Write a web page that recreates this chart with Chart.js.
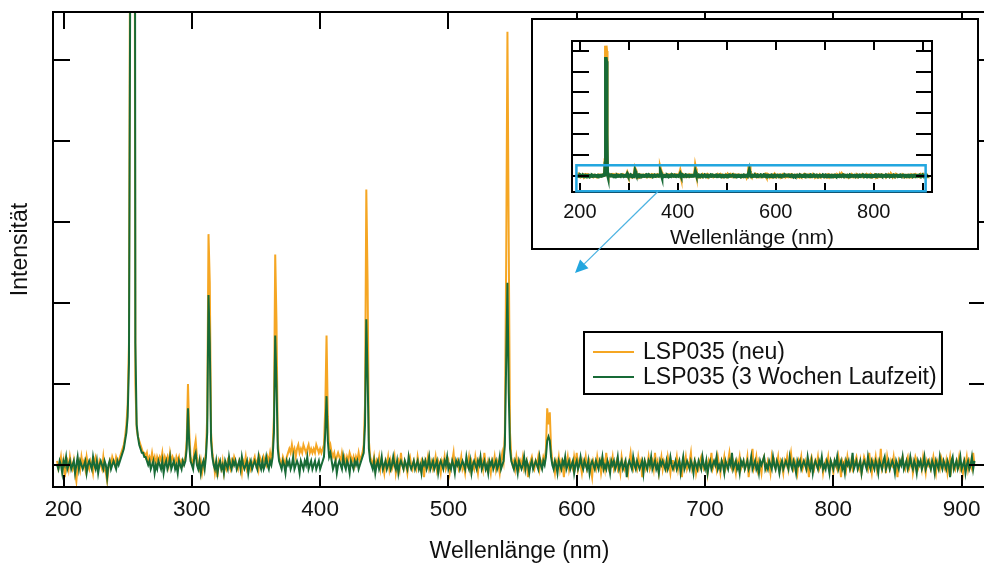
<!DOCTYPE html>
<html>
<head>
<meta charset="utf-8">
<title>LSP035 Spektrum</title>
<script src="https://cdn.jsdelivr.net/npm/chart.js@4/dist/chart.umd.min.js"></script>
<style>
  html, body { margin: 0; padding: 0; background: #fff; overflow: hidden; width: 984px; height: 565px; }
  #main { position: absolute; left: 0; top: 0; }
  #inset { position: absolute; left: 520px; top: 10px; }
</style>
</head>
<body>
<canvas id="main" width="990" height="565"></canvas>
<canvas id="inset" width="470" height="280"></canvas>
<script>
// Spectrometer grid: one sample per nanometre, 195 nm ... 910 nm
const wlStart = 195;
const wlStep = 1;

// Intensity, new lamp (rows of 20 nm, starting at 195 nm)
const neu = [
  1,-1,0,2,-1,1,-3,0,1,-1,2,0,-1,1,-2,-4,0,1,-1,2,
  0,1,-1,2,0,-1,1,0,-2,1,2,0,-1,1,0,-1,2,-1,-2,-4,
  -1,1,0,2,1,0,2,1,1,2,3,4,5,7,10,15,30,150,1250,1200,
  250,20,9,7,6,5,4,3,3,2,3,1,2,1,3,1,2,0,2,1,
  2,1,3,0,2,1,2,0,3,1,2,1,0,2,1,2,0,1,0,1,
  2,6,20,8,2,1,0,4,6,2,0,-1,1,-2,0,1,3,12,57,45,
  8,3,1,-2,0,-3,1,0,-1,1,-2,0,-1,1,0,-1,1,0,2,1,
  0,-1,1,0,-2,1,0,2,-1,0,1,-1,0,1,2,0,1,-1,2,1,
  0,2,1,0,2,1,3,1,4,12,52,35,6,2,1,0,2,1,0,2,
  3,4,3,5,3,4,2,4,5,3,4,3,5,4,3,4,5,3,4,3,
  4,3,5,4,3,4,3,4,5,14,32,12,4,5,3,2,3,1,2,3,
  2,1,3,1,2,0,2,1,3,2,1,2,0,2,1,3,1,2,3,5,
  15,68,45,6,2,1,0,2,-1,1,0,2,-1,1,0,-2,1,0,2,-1,
  1,-1,0,2,-2,0,1,-1,3,0,-1,1,0,-2,1,2,0,-1,1,0,
  -1,2,0,-1,1,0,-3,1,0,2,-1,0,1,-1,0,2,-1,1,0,-2,
  1,0,2,-1,0,1,-2,0,1,3,-1,0,1,-1,0,2,-1,0,-2,1,
  0,2,-1,1,0,-1,2,0,-2,1,0,1,-1,3,0,-1,1,0,-2,1,
  0,2,-1,1,0,-2,1,3,1,8,50,107,55,8,2,0,1,-1,2,0,
  -1,1,0,2,-1,0,1,-3,0,1,2,0,-1,1,0,2,-1,1,0,2,
  1,4,14,10,13,4,1,0,-2,1,0,2,-1,1,0,-3,1,0,2,-1,
  1,0,-1,2,0,3,-1,1,0,-2,1,0,2,-1,0,1,-1,-3,1,0,
  -1,2,0,1,-2,0,1,-1,3,0,-1,1,0,2,-1,0,1,-1,0,-2,
  2,0,-1,1,0,-2,1,3,0,-1,1,0,-1,2,0,1,-3,0,1,-1,
  0,2,-1,0,1,-1,3,0,1,-2,0,2,-1,1,0,-1,2,0,-2,1,
  1,-1,0,2,-1,1,0,-3,1,0,2,-1,0,1,3,-1,0,1,-2,0,
  -1,1,2,0,-1,0,1,-2,1,0,3,-1,0,1,-1,2,0,-2,1,0,
  2,-1,0,1,3,0,-1,1,0,-2,1,0,2,-1,0,1,-1,0,2,-3,
  0,1,4,-1,0,2,-1,1,0,-2,1,2,0,-1,1,0,-2,2,0,1,
  -1,0,2,-1,1,0,-2,1,0,2,-1,1,3,0,-1,1,0,-2,1,0,
  2,-1,0,1,-1,0,-3,1,2,0,-1,1,0,2,-1,0,1,-2,0,1,
  0,2,-1,1,0,-2,1,0,-1,2,0,-3,1,0,1,-1,2,0,-1,1,
  -1,0,1,2,0,-1,1,-2,0,2,1,0,-1,3,0,-2,1,0,2,-1,
  1,0,4,-1,0,1,-2,2,0,-1,1,0,2,-1,0,-3,1,0,1,2,
  0,-1,1,2,-1,0,1,-2,0,2,1,-1,0,1,-1,2,0,-2,1,0,
  1,-1,0,2,0,-2,1,0,-1,2,1,0,-1,1,-2,0,2,-1,1,0,
  -1,1,0,2,-1,0,-2,1,0,2,-1,1,0,-1,3,0
];

// Intensity after 3 weeks of operation (same grid)
const laufzeit = [
  0,-1,1,0,-2,1,0,2,-1,0,1,-1,0,1,-2,0,2,-1,1,0,
  -1,0,1,-2,0,1,0,-1,2,0,-1,1,-2,0,1,0,-1,1,0,-3,
  0,1,-1,0,1,0,-1,1,0,1,2,3,4,6,8,12,25,120,1140,1100,
  400,30,10,7,5,4,3,3,2,2,1,0,1,-1,0,1,-2,0,-1,1,
  0,-1,1,-2,0,1,-1,0,2,-1,0,1,-1,0,-2,1,0,-1,1,0,
  1,4,14,5,1,0,-1,2,3,0,-1,1,-2,0,1,-1,2,8,42,30,
  6,2,0,-1,1,-2,0,1,-1,0,-2,1,0,-1,2,0,-1,1,0,1,
  -1,0,1,-1,2,0,-1,0,1,-2,0,1,-1,0,1,0,-1,2,0,-1,
  1,-1,0,2,0,-1,1,0,2,8,32,20,4,1,0,-1,1,0,-2,1,
  0,1,-1,0,2,-1,0,1,0,-2,1,0,-1,1,0,2,-1,0,1,-1,
  0,1,-1,0,1,-1,0,1,2,8,17,6,2,3,1,-1,0,1,-2,0,
  1,0,-1,2,0,-1,1,0,-2,1,0,-1,1,0,1,-1,0,1,2,3,
  10,36,22,4,1,0,-1,1,-2,0,1,-1,0,2,-1,0,1,-1,0,1,
  -1,0,2,0,-1,1,-2,0,1,0,-1,1,0,-1,2,0,-1,0,1,-1,
  0,1,-1,0,-2,1,0,1,-1,0,2,-1,0,1,-1,0,1,-2,0,1,
  0,-1,1,0,2,-1,0,-1,1,0,-2,1,0,1,-1,0,1,0,-1,2,
  0,-1,1,-2,0,1,0,-1,1,0,2,-1,0,1,-1,0,-2,1,0,1,
  -1,0,1,-1,0,2,-1,0,1,5,25,45,18,4,1,0,-1,1,0,-2,
  1,0,-1,0,2,-1,1,0,-2,0,1,-1,0,1,0,-1,2,0,-1,1,
  0,2,6,7,6,2,0,-1,1,0,-2,1,0,-1,1,0,2,-1,0,1,
  -1,0,1,-2,0,1,-1,0,2,0,-1,1,0,-1,1,-2,0,1,0,-1,
  1,0,-1,1,0,2,-1,0,-1,1,0,-2,1,0,1,-1,0,2,-1,0,
  1,-1,0,1,-3,0,1,0,-1,2,0,-1,1,0,-1,0,1,-2,1,0,
  -1,1,0,2,-1,0,1,-1,0,-2,1,0,1,0,-1,1,-1,0,2,0,
  -1,0,1,-1,0,1,-2,0,2,-1,0,1,0,-1,1,0,-2,1,0,-1,
  1,0,-1,2,0,-1,1,-2,0,1,-1,0,1,0,2,-1,0,-1,1,0,
  -2,1,0,-1,1,0,3,-1,0,1,-1,0,-2,1,0,1,-1,0,1,-1,
  0,2,-1,0,1,-1,0,-2,1,0,1,2,-1,0,-1,1,0,-1,2,0,
  -1,1,0,-2,0,1,-1,0,1,0,-1,2,0,-1,1,0,-2,1,0,1,
  -1,0,1,0,-1,2,0,-1,1,-2,0,1,0,-1,1,0,2,-1,0,-1,
  1,0,-2,1,0,-1,1,0,2,-1,0,1,-1,0,-2,1,0,1,-1,0,
  3,-1,0,1,-1,0,1,-2,0,1,0,-1,2,0,-1,1,0,-1,1,0,
  -2,1,0,-1,1,2,-1,0,1,-1,0,1,0,-2,1,0,-1,1,0,2,
  -1,0,1,-1,0,2,0,-1,1,0,-2,1,0,1,-1,0,2,-1,0,1,
  0,-1,1,0,-2,1,0,-1,2,0,-1,1,0,-1,1,0,-3,1,2,-1,
  0,1,-1,0,2,-1,0,1,-2,0,1,-1,0,2,-1,1
];

const seriesLabels = ['LSP035 (neu)', 'LSP035 (3 Wochen Laufzeit)'];
const seriesColors = ['#F5A623', '#176A36'];

// Axis ticks
const mainXTicks = [200, 300, 400, 500, 600, 700, 800, 900];
const mainYTicks = [0, 20, 40, 60, 80, 100];
const insetXTicks = [200, 300, 400, 500, 600, 700, 800, 900];
const insetXLabels = [200, 400, 600, 800];
const insetYTicks = [0, 200, 400, 600, 800, 1000, 1200];

// Zoomed region marked in the overview (data units of the overview)
const zoomRegion = { x: [193, 906], y: [-150, 100] };

const wavelength = neu.map((_, i) => wlStart + i * wlStep);
const toPoints = vals => vals.map((v, i) => ({ x: wavelength[i], y: v }));

const FONT = "'Liberation Sans', Arial, sans-serif";
const INK = '#111';

// Closed box around the plot area with inward tick marks on all four sides
const axisFrame = {
  id: 'axisFrame',
  beforeDraw(chart, args, o) {
    if (!o.panel) return;
    const { ctx } = chart;
    const [x0, y0, x1, y1] = o.panel;
    ctx.save();
    ctx.fillStyle = '#fff';
    ctx.fillRect(x0, y0, x1 - x0, y1 - y0);
    ctx.lineWidth = 2;
    ctx.strokeStyle = '#000';
    ctx.strokeRect(x0, y0, x1 - x0, y1 - y0);
    ctx.restore();
  },
  afterDraw(chart, args, o) {
    const { ctx, chartArea: a, scales: { x, y } } = chart;
    ctx.save();
    ctx.strokeStyle = '#000';
    ctx.lineWidth = o.width;
    ctx.beginPath();
    for (const t of x.ticks) {
      const p = Math.round(x.getPixelForValue(t.value));
      ctx.moveTo(p, a.bottom); ctx.lineTo(p, a.bottom - o.len.bottom);
      ctx.moveTo(p, a.top); ctx.lineTo(p, a.top + o.len.top);
    }
    for (const t of y.ticks) {
      const p = Math.round(y.getPixelForValue(t.value));
      ctx.moveTo(a.left, p); ctx.lineTo(a.left + o.len.left, p);
      ctx.moveTo(a.right, p); ctx.lineTo(a.right - o.len.right, p);
    }
    ctx.stroke();
    ctx.strokeRect(a.left, a.top, a.right - a.left, a.bottom - a.top);
    ctx.restore();
  }
};

// Framed legend inside the plot
const boxLegend = {
  id: 'boxLegend',
  afterDraw(chart, args, o) {
    if (!o.box) return;
    const { ctx } = chart;
    const [x0, y0, x1, y1] = o.box;
    ctx.save();
    ctx.fillStyle = '#fff';
    ctx.fillRect(x0, y0, x1 - x0, y1 - y0);
    ctx.strokeStyle = '#000';
    ctx.lineWidth = 2;
    ctx.strokeRect(x0, y0, x1 - x0, y1 - y0);
    ctx.font = o.font;
    ctx.textBaseline = 'middle';
    ctx.textAlign = 'left';
    o.order.forEach((di, row) => {
      const ds = chart.data.datasets[di];
      const cy = y0 + o.firstRow + row * o.rowGap;
      ctx.strokeStyle = ds.borderColor;
      ctx.lineWidth = 2;
      ctx.beginPath();
      ctx.moveTo(x0 + o.lineFrom, cy);
      ctx.lineTo(x0 + o.lineTo, cy);
      ctx.stroke();
      ctx.fillStyle = INK;
      ctx.fillText(ds.label, x0 + o.textX, cy + 1);
    });
    ctx.restore();
  }
};

// Blue frame around the zoomed band and the arrow pointing to the overview
const zoomMarker = {
  id: 'zoomMarker',
  afterDraw(chart, args, o) {
    if (!o.region) return;
    const { ctx, scales: { x, y } } = chart;
    const xl = x.getPixelForValue(o.region.x[0]);
    const xr = x.getPixelForValue(o.region.x[1]);
    const yt = y.getPixelForValue(o.region.y[1]);
    const yb = y.getPixelForValue(o.region.y[0]);
    ctx.save();
    ctx.strokeStyle = '#22A6DF';
    ctx.lineWidth = 2.5;
    ctx.strokeRect(xl, yt, xr - xl, yb - yt);
    // arrow
    const sx = x.getPixelForValue(o.arrowFrom);
    const sy = yb;
    const [tx, ty] = o.arrowTip;
    const ang = Math.atan2(ty - sy, tx - sx);
    const hl = 13, hw = 6;
    const bx = tx - hl * Math.cos(ang), by = ty - hl * Math.sin(ang);
    ctx.strokeStyle = '#4DB3E2';
    ctx.lineWidth = 1.3;
    ctx.beginPath();
    ctx.moveTo(sx, sy);
    ctx.lineTo(bx, by);
    ctx.stroke();
    ctx.fillStyle = '#22A6DF';
    ctx.beginPath();
    ctx.moveTo(tx, ty);
    ctx.lineTo(bx + hw * Math.sin(ang), by - hw * Math.cos(ang));
    ctx.lineTo(bx - hw * Math.sin(ang), by + hw * Math.cos(ang));
    ctx.closePath();
    ctx.fill();
    ctx.restore();
  }
};

function datasets(width) {
  return [
    { label: seriesLabels[0], data: toPoints(neu), borderColor: seriesColors[0], borderWidth: width, order: 1 },
    { label: seriesLabels[1], data: toPoints(laufzeit), borderColor: seriesColors[1], borderWidth: width, order: 0 }
  ].map(d => Object.assign(d, { pointRadius: 0, tension: 0, fill: false, backgroundColor: d.borderColor }));
}

// Overview spectrum
new Chart(document.getElementById('main'), {
  type: 'line',
  data: { datasets: datasets(2) },
  plugins: [axisFrame, boxLegend],
  options: {
    responsive: false,
    animation: false,
    parsing: false,
    normalized: true,
    layout: { padding: { left: 0, top: 12, right: 4, bottom: 0 } },
    scales: {
      x: {
        type: 'linear', min: 191.8, max: 919,
        afterBuildTicks: s => { s.ticks = mainXTicks.map(v => ({ value: v })); },
        afterFit: s => { s.height = 78; },
        grid: { display: false, drawTicks: false },
        border: { display: false },
        ticks: { autoSkip: false, maxRotation: 0, padding: 9, color: INK, font: { family: FONT, size: 22.5 } },
        title: { display: true, text: 'Wellenlänge (nm)', color: INK, font: { family: FONT, size: 23 }, padding: { top: 0, bottom: 0 } }
      },
      y: {
        type: 'linear', min: -5.43, max: 111.85,
        afterBuildTicks: s => { s.ticks = mainYTicks.map(v => ({ value: v })); },
        afterFit: s => { s.width = 53; },
        grid: { display: false, drawTicks: false },
        border: { display: false },
        ticks: { display: false },
        title: { display: true, text: 'Intensität', color: INK, font: { family: FONT, size: 23 }, padding: { top: 7, bottom: 0 } }
      }
    },
    plugins: {
      legend: { display: false },
      tooltip: { enabled: false },
      axisFrame: { width: 2, len: { top: 17, bottom: 12, left: 17, right: 17 } },
      boxLegend: {
        box: [584, 332, 942, 394], order: [0, 1], firstRow: 20, rowGap: 25,
        lineFrom: 9, lineTo: 50, textX: 59, font: '23px ' + FONT
      }
    }
  }
});

// Inset: full intensity range
new Chart(document.getElementById('inset'), {
  type: 'line',
  data: { datasets: datasets(3.5) },
  plugins: [axisFrame, zoomMarker],
  options: {
    responsive: false,
    animation: false,
    parsing: false,
    normalized: true,
    layout: { padding: { left: 0, top: 31, right: 58, bottom: 0 } },
    scales: {
      x: {
        type: 'linear', min: 184, max: 919,
        afterBuildTicks: s => { s.ticks = insetXTicks.map(v => ({ value: v })); },
        afterFit: s => { s.height = 98; },
        grid: { display: false, drawTicks: false },
        border: { display: false },
        ticks: {
          autoSkip: false, maxRotation: 0, padding: 8, color: INK, font: { family: FONT, size: 20 },
          callback: v => insetXLabels.includes(v) ? String(v) : ''
        },
        title: { display: true, text: 'Wellenlänge (nm)', color: INK, font: { family: FONT, size: 21 }, padding: { top: 0, bottom: 39 } }
      },
      y: {
        type: 'linear', min: -157, max: 1295,
        afterBuildTicks: s => { s.ticks = insetYTicks.map(v => ({ value: v })); },
        afterFit: s => { s.width = 52; },
        grid: { display: false, drawTicks: false },
        border: { display: false },
        ticks: { display: false }
      }
    },
    plugins: {
      legend: { display: false },
      tooltip: { enabled: false },
      axisFrame: { width: 2, panel: [12, 9, 458, 239], len: { top: 9, bottom: 9, left: 17, right: 16 } },
      zoomMarker: { region: zoomRegion, arrowFrom: 360, arrowTip: [55, 263] }
    }
  }
});
</script>
</body>
</html>
